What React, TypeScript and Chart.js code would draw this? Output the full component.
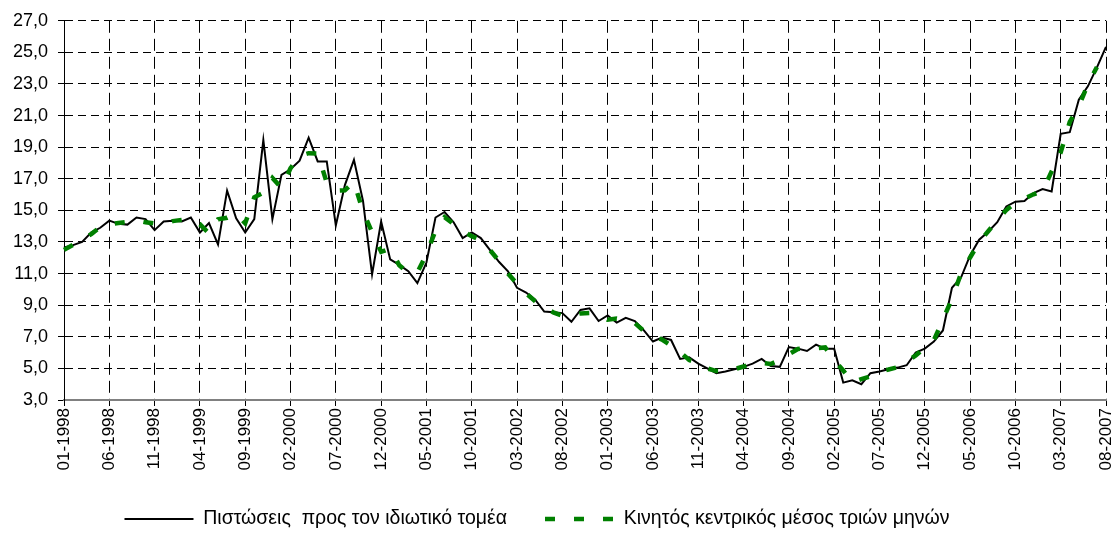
import React, { useEffect, useRef } from "react";
import { Chart, registerables } from "chart.js";

Chart.register(...registerables);

const FONT = "'Liberation Sans', Arial, Helvetica, sans-serif";

// Monthly categories 01-1998 ... 08-2007
const START_YEAR = 1998;
const MONTH_COUNT = 116;
const months: string[] = [];
for (let i = 0; i < MONTH_COUNT; i++) {
  const y = START_YEAR + Math.floor(i / 12);
  const m = (i % 12) + 1;
  months.push((m < 10 ? "0" : "") + m + "-" + y);
}

const seriesNames = [
  "Πιστώσεις  προς τον ιδιωτικό τομέα",
  "Κινητός κεντρικός μέσος τριών μηνών",
];

// Credit to the private sector (annual growth, %)
const credit: number[] = [
  12.65, 12.8, 13.0, 13.6, 13.9, 14.35, 14.15, 14.1, 14.55, 14.45, 13.75, 14.3,
  14.35, 14.3, 14.55, 13.6, 14.2, 12.85, 16.25, 14.5, 13.6, 14.45, 19.45, 14.45,
  17.25, 17.6, 18.15, 19.6, 18.1, 18.1, 14.05, 16.6, 18.2, 15.6, 10.95, 14.3,
  11.9, 11.55, 11.15, 10.4, 11.7, 14.55, 14.9, 14.25, 13.25, 13.6, 13.25, 12.5,
  11.75, 11.15, 10.1, 9.8, 9.35, 8.6, 8.55, 8.5, 7.95, 8.7, 8.8, 8.0,
  8.35, 7.9, 8.2, 8.0, 7.4, 6.7, 6.95, 6.8, 5.6, 5.7, 5.3, 5.0,
  4.7, 4.8, 4.95, 5.1, 5.3, 5.6, 5.15, 5.1, 6.35, 6.25, 6.1, 6.5,
  6.25, 6.25, 4.1, 4.25, 4.0, 4.7, 4.8, 4.95, 5.05, 5.2, 6.0, 6.25,
  6.7, 7.4, 10.1, 10.75, 12.15, 13.15, 13.65, 14.25, 15.25, 15.55, 15.6, 16.1,
  16.35, 16.2, 19.85, 19.95, 22.0, 22.85, 24.05, 25.35,
];

// Centered three-month moving average
const movingAvg: (number | null)[] = [
  12.5, 12.82, 13.13, 13.5, 13.95, 14.13, 14.2, 14.27, 14.37, 14.25, 14.17, 14.13,
  14.32, 14.4, 14.15, 14.12, 13.55, 14.43, 14.53, 14.78, 14.18, 15.83, 16.12, 17.05,
  16.43, 17.67, 18.45, 18.62, 18.6, 16.75, 16.25, 16.28, 16.8, 14.92, 13.62, 12.38,
  12.58, 11.53, 11.03, 11.08, 12.22, 13.72, 14.57, 14.13, 13.7, 13.37, 13.12, 12.5,
  11.8, 11.0, 10.35, 9.75, 9.25, 8.83, 8.55, 8.33, 8.38, 8.48, 8.5, 8.38,
  8.08, 8.15, 8.03, 7.87, 7.37, 7.02, 6.82, 6.45, 6.03, 5.53, 5.33, 5.0,
  4.83, 4.82, 4.95, 5.12, 5.33, 5.35, 5.28, 5.53, 5.9, 6.23, 6.28, 6.28,
  6.33, 5.53, 4.87, 4.12, 4.32, 4.5, 4.82, 4.93, 5.07, 5.42, 5.82, 6.32,
  6.78, 8.07, 9.42, 11.0, 12.02, 12.98, 13.68, 14.38, 15.02, 15.47, 15.75, 16.02,
  16.22, 17.47, 18.67, 20.6, 21.6, 22.97, 24.08, null,
];

const Y_MIN = 3;
const Y_MAX = 27;
const Y_STEP = 2;
const LABEL_EVERY = 5;

const CANVAS_W = 1117;
const CANVAS_H = 537;
const PLOT_BOTTOM = 400;
const X_AXIS_H = 71.3;
const LEGEND_PAD = 38;
const LEGEND_SHIFT_X = -16;

const legendShift = {
  id: "legendShift",
  afterLayout(chart: any) {
    const lg = chart.legend;
    if (!lg) return;
    lg.left += LEGEND_SHIFT_X;
    lg.right += LEGEND_SHIFT_X;
  },
};

export default function App() {
  const ref = useRef<HTMLCanvasElement | null>(null);

  useEffect(() => {
    if (!ref.current) return;
    const gridColor = (c: any) => (c.index % LABEL_EVERY === 0 ? "#000000" : "rgba(0,0,0,0)");
    const defaultLabels = (Chart.defaults.plugins.legend.labels as any).generateLabels;
    const chart = new Chart(ref.current, {
      type: "line",
      data: {
        labels: months,
        datasets: [
          {
            label: seriesNames[0],
            data: credit,
            borderColor: "#000000",
            backgroundColor: "#000000",
            borderWidth: 2,
            pointRadius: 0,
            pointHoverRadius: 0,
            tension: 0,
            fill: false,
            order: 2,
          },
          {
            label: seriesNames[1],
            data: movingAvg,
            borderColor: "#008000",
            backgroundColor: "#008000",
            borderWidth: 4.5,
            borderDash: [10, 19],
            borderCapStyle: "butt",
            pointRadius: 0,
            pointHoverRadius: 0,
            tension: 0,
            fill: false,
            order: 1,
          },
        ],
      },
      options: {
        animation: false,
        responsive: false,
        devicePixelRatio: 1,
        events: [],
        layout: { padding: { top: 20, right: 11, left: 0, bottom: 0 } },
        plugins: {
          tooltip: { enabled: false },
          legend: {
            display: true,
            position: "bottom",
            maxHeight: CANVAS_H - PLOT_BOTTOM - X_AXIS_H,
            labels: {
              usePointStyle: true,
              pointStyle: "line",
              pointStyleWidth: 69,
              padding: LEGEND_PAD,
              color: "#000000",
              font: { family: FONT, size: 19.5 },
              sort: (a: any, b: any) => a.datasetIndex - b.datasetIndex,
              generateLabels: (ch: any) =>
                defaultLabels(ch).map((item: any) => {
                  const ds: any = ch.data.datasets[item.datasetIndex];
                  return {
                    ...item,
                    pointStyle: "line",
                    strokeStyle: ds.borderColor,
                    fillStyle: ds.borderColor,
                    lineWidth: ds.borderWidth,
                    lineDash: ds.borderDash || [],
                    lineDashOffset: 0,
                    lineCap: "butt",
                  };
                }),
            },
          },
        },
        scales: {
          x: {
            type: "category",
            offset: false,
            ticks: {
              autoSkip: false,
              minRotation: 90,
              maxRotation: 90,
              padding: 2,
              color: "#000000",
              font: { family: FONT, size: 17 },
              callback: (_v: any, i: number) => (i % LABEL_EVERY === 0 ? months[i] : ""),
            },
            grid: {
              color: gridColor,
              tickColor: gridColor,
              tickLength: 6,
              lineWidth: 1,
              offset: false,
            },
            border: { display: true, color: "#808080", width: 2, dash: [12, 6] },
            afterFit: (s: any) => {
              s.height = X_AXIS_H;
              s.paddingRight = 0;
              s.paddingLeft = 0;
            },
          },
          y: {
            min: Y_MIN,
            max: Y_MAX,
            ticks: {
              stepSize: Y_STEP,
              padding: 10,
              color: "#000000",
              font: { family: FONT, size: 18 },
              callback: (v: any) => Number(v).toFixed(1).replace(".", ","),
            },
            grid: { color: "#000000", tickColor: "#000000", tickLength: 6, lineWidth: 1 },
            border: { display: true, color: "#000000", width: 1, dash: [8, 5] },
            afterFit: (s: any) => {
              s.width = 64;
            },
          },
        },
      },
      plugins: [legendShift],
    });
    return () => chart.destroy();
  }, []);

  return (
    <div style={{ position: "fixed", left: 0, top: 0, width: CANVAS_W, height: CANVAS_H, background: "#fff" }}>
      <canvas
        ref={ref}
        width={CANVAS_W}
        height={CANVAS_H}
        style={{ display: "block", width: CANVAS_W, height: CANVAS_H }}
      />
    </div>
  );
}
